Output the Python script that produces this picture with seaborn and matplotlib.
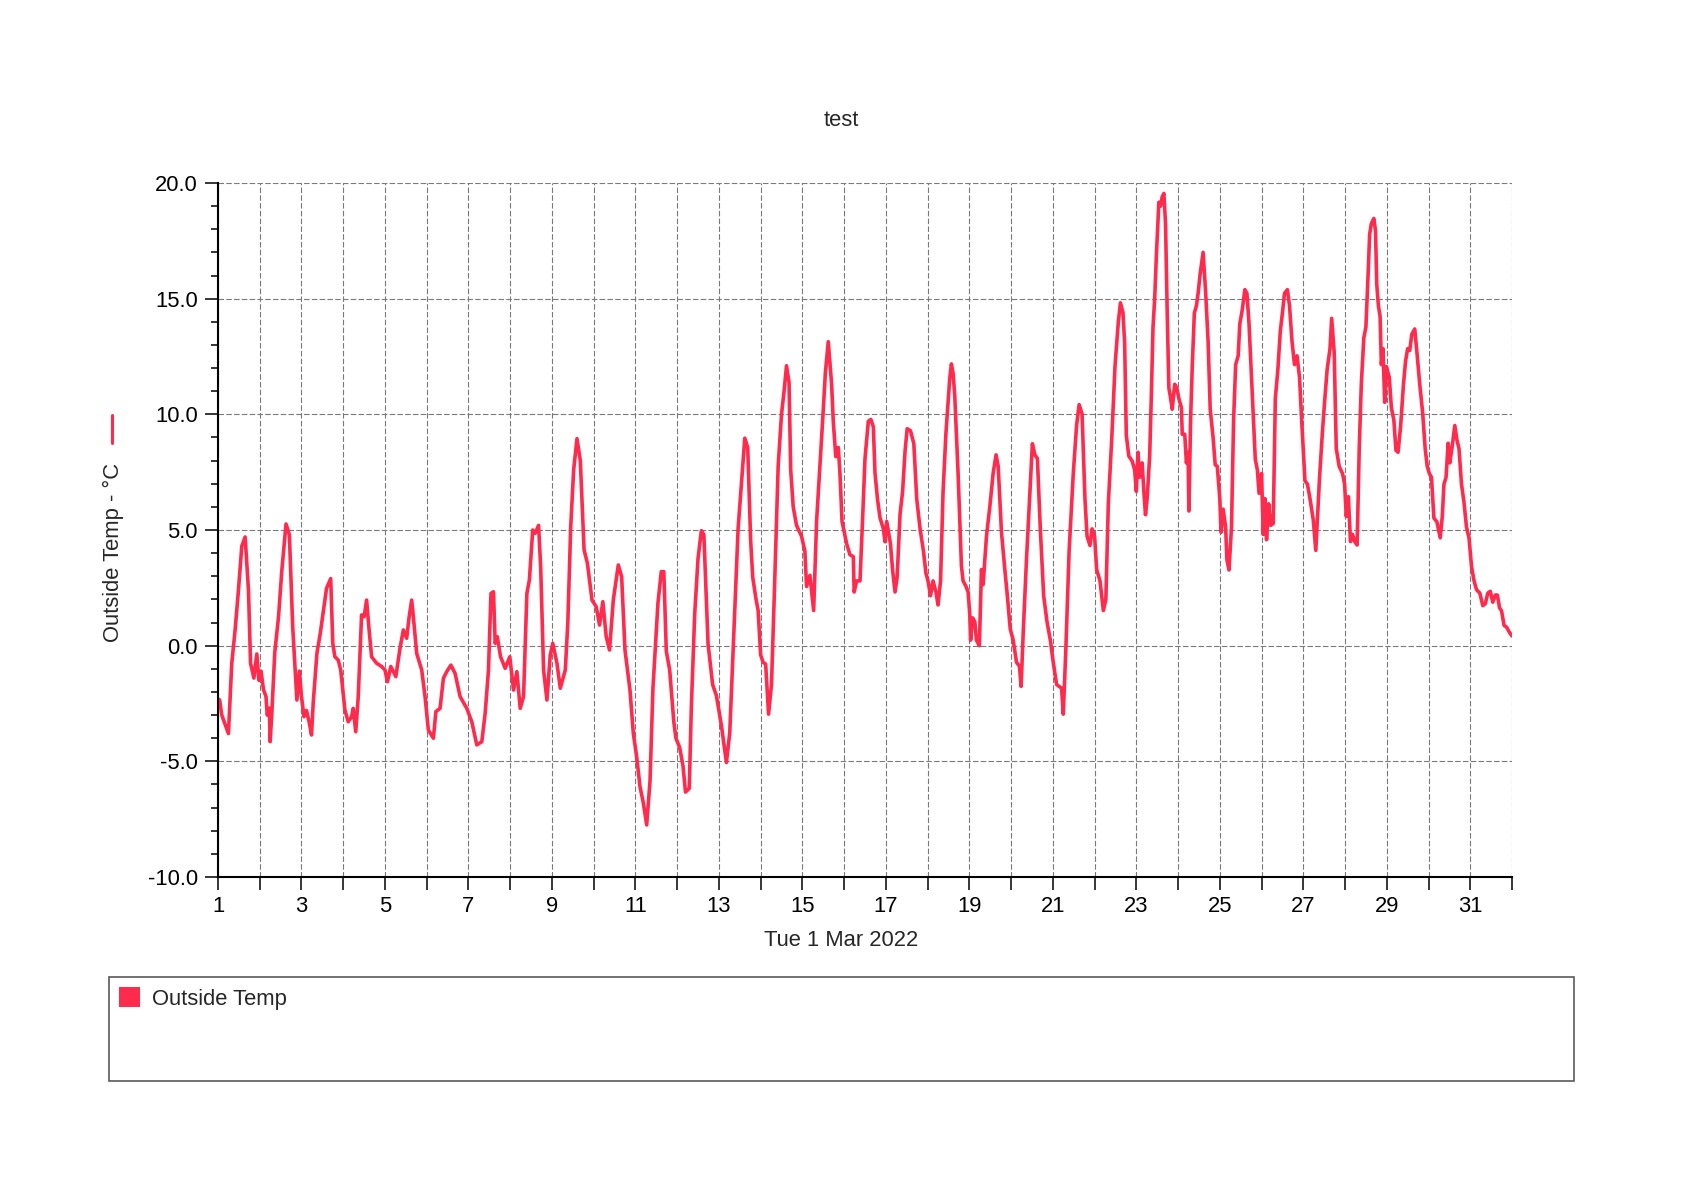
import matplotlib
matplotlib.use('Agg')
import matplotlib.pyplot as plt
import matplotlib.dates as mdates
from matplotlib.ticker import MultipleLocator, FormatStrFormatter, FuncFormatter
from matplotlib.patches import Rectangle
from matplotlib.lines import Line2D
import seaborn as sns
import pandas as pd

# Outside temperature, March 2022 (day-of-month as fractional position, deg C)
days_a = [1.0, 1.04, 1.09, 1.25, 1.33, 1.41, 1.49, 1.57, 1.65, 1.73, 1.78, 1.86, 1.93, 1.98,
          2.03, 2.09, 2.15, 2.18, 2.23, 2.25, 2.29, 2.36, 2.45, 2.53, 2.63, 2.71, 2.79, 2.85,
          2.89, 2.95, 3.0, 3.06, 3.12, 3.19, 3.24, 3.28, 3.37, 3.45, 3.54, 3.6, 3.7, 3.75,
          3.8, 3.88, 3.94, 4.04, 4.12, 4.2, 4.24, 4.3, 4.36, 4.44, 4.5, 4.56, 4.62, 4.68,
          4.8, 4.92, 5.0, 5.06, 5.14, 5.26, 5.36, 5.44, 5.52, 5.58, 5.64, 5.68, 5.76, 5.88,
          5.96, 6.04, 6.16, 6.22, 6.32, 6.4, 6.48, 6.58, 6.68, 6.8, 6.96, 7.08, 7.2, 7.32,
          7.4, 7.48, 7.54, 7.6, 7.64, 7.69, 7.77, 7.88, 7.99, 8.08, 8.16, 8.24, 8.32, 8.4,
          8.46, 8.54, 8.6, 8.68, 8.73, 8.8, 8.88, 8.96, 9.02, 9.12, 9.2, 9.32, 9.38, 9.45,
          9.52, 9.6, 9.68, 9.77, 9.85, 9.96, 10.06, 10.14, 10.22, 10.3, 10.38, 10.47, 10.59,
          10.67, 10.75, 10.87, 10.95, 11.03, 11.11, 11.19, 11.27]
temps_a = [-2.3, -2.35, -3.0, -3.8, -0.76, 0.68, 2.4, 4.3, 4.7, 2.4, -0.76, -1.4, -0.36, -1.5,
           -1.1, -1.9, -2.2, -3.0, -2.7, -4.15, -2.9, -0.3, 1.25, 3.27, 5.26, 4.8, 0.8, -1.05,
           -2.35, -1.1, -2.2, -3.07, -2.8, -3.36, -3.86, -2.5, -0.33, 0.53, 1.69, 2.48, 2.9, 0.1,
           -0.48, -0.62, -1.05, -2.78, -3.29, -3.07, -2.71, -3.72, -2.2, 1.33, 1.25, 1.97, 0.68, -0.48,
           -0.76, -0.9, -1.05, -1.56, -0.9, -1.34, -0.12, 0.68, 0.32, 1.25, 1.97, 1.25, -0.33, -1.05,
           -2.2, -3.65, -4.0, -2.85, -2.71, -1.41, -1.12, -0.84, -1.2, -2.2, -2.71, -3.29, -4.29, -4.15,
           -2.93, -1.05, 2.26, 2.33, 0.1, 0.39, -0.48, -0.98, -0.48, -1.92, -1.12, -2.71, -2.2, 2.26,
           2.84, 5.0, 4.86, 5.2, 3.41, -1.05, -2.35, -0.4, 0.1, -0.76, -1.84, -1.05, 0.97, 5.14,
           7.59, 8.95, 8.0, 4.14, 3.56, 1.97, 1.69, 0.89, 1.9, 0.39, -0.19, 1.97, 3.49,
           2.98, -0.19, -1.92, -3.79, -4.8, -6.1, -6.8, -7.75]

days_b = [11.35, 11.42, 11.5, 11.54, 11.62, 11.68, 11.74, 11.82, 11.92, 11.97, 12.06, 12.14, 12.2,
          12.29, 12.34, 12.42, 12.5, 12.58, 12.64, 12.74, 12.85, 12.94, 13.06, 13.18, 13.26, 13.34,
          13.46, 13.57, 13.62, 13.69, 13.76, 13.81, 13.89, 13.94, 14.0, 14.06, 14.12, 14.19, 14.26,
          14.34, 14.42, 14.5, 14.56, 14.62, 14.68, 14.72, 14.78, 14.86, 14.98, 15.06, 15.1, 15.18,
          15.27, 15.34, 15.42, 15.5, 15.55, 15.62, 15.7, 15.74, 15.8, 15.86, 15.9, 15.95, 16.06,
          16.14, 16.22, 16.24, 16.3, 16.38, 16.44, 16.5, 16.58, 16.64, 16.7, 16.74, 16.8, 16.86,
          16.94, 16.98, 17.02, 17.11, 17.16, 17.22, 17.27, 17.34, 17.4, 17.46, 17.51, 17.59, 17.67,
          17.74, 17.82, 17.9, 17.96, 18.01, 18.07, 18.13, 18.2, 18.25, 18.31, 18.37, 18.44, 18.49,
          18.53, 18.57, 18.61, 18.65, 18.73, 18.81, 18.85, 18.92, 18.97, 19.01, 19.03, 19.08, 19.13,
          19.17, 19.24, 19.29, 19.33, 19.41, 19.49, 19.57, 19.64, 19.69, 19.77, 19.85, 19.91, 19.98,
          20.05, 20.13, 20.2, 20.24, 20.29, 20.37, 20.45, 20.51, 20.57, 20.63, 20.7, 20.78, 20.86,
          20.94, 21.01, 21.09, 21.21, 21.25, 21.31, 21.39, 21.49, 21.57, 21.63, 21.7, 21.77, 21.82,
          21.89, 21.94, 22.0, 22.05, 22.13, 22.21, 22.27, 22.33, 22.41, 22.49, 22.57, 22.62]
temps_b = [-5.85, -1.84, 0.56, 1.84, 3.2, 3.2, -0.24, -1.04, -3.29, -4.0, -4.4, -5.2, -6.33,
           -6.17, -2.64, 1.36, 3.77, 4.97, 4.8, 0.08, -1.68, -2.16, -3.45, -5.05, -3.77, -0.24,
           5.05, 7.77, 8.97, 8.57, 4.57, 2.96, 2.0, 1.52, -0.4, -0.72, -0.8, -2.96, -1.68,
           2.96, 7.77, 10.0, 10.98, 12.1, 11.38, 7.61, 6.0, 5.2, 4.73, 4.09, 2.56, 3.04,
           1.52, 5.37, 7.77, 10.18, 11.78, 13.14, 11.3, 9.7, 8.17, 8.57, 7.45, 5.37, 4.41,
           3.93, 3.85, 2.32, 2.8, 2.8, 5.37, 8.09, 9.7, 9.78, 9.46, 7.45, 6.33, 5.53,
           5.05, 4.49, 5.37, 4.41, 3.29, 2.32, 2.96, 5.69, 6.65, 8.41, 9.38, 9.29, 8.73,
           6.33, 5.05, 4.09, 3.13, 2.8, 2.16, 2.8, 2.32, 1.76, 2.8, 6.65, 9.21, 10.5,
           11.54, 12.18, 11.78, 10.82, 7.45, 3.45, 2.8, 2.56, 2.32, 1.36, 0.24, 1.2, 1.04,
           0.24, 0.0, 3.29, 2.64, 4.73, 6.0, 7.45, 8.25, 7.77, 4.89, 3.29, 2.16, 0.72,
           0.24, -0.72, -0.88, -1.76, 0.56, 3.77, 6.65, 8.73, 8.25, 8.09, 5.05, 2.16, 1.04,
           0.24, -0.72, -1.68, -1.84, -2.96, -0.24, 4.09, 7.45, 9.54, 10.42, 10.02, 6.33, 4.73,
           4.33, 5.05, 4.73, 3.29, 2.8, 1.52, 2.0, 6.17, 8.89, 12.1, 14.02, 14.82]

days_c = [22.68, 22.72, 22.76, 22.82, 22.9, 22.96, 23.0, 23.04, 23.08, 23.14, 23.18, 23.22, 23.26,
          23.32, 23.36, 23.4, 23.44, 23.48, 23.54, 23.58, 23.62, 23.66, 23.7, 23.74, 23.78, 23.81,
          23.86, 23.92, 23.97, 24.02, 24.08, 24.1, 24.16, 24.2, 24.24, 24.26, 24.3, 24.34, 24.39,
          24.44, 24.48, 24.53, 24.6, 24.66, 24.72, 24.77, 24.84, 24.89, 24.94, 25.0, 25.03, 25.08,
          25.14, 25.17, 25.22, 25.28, 25.33, 25.38, 25.44, 25.48, 25.54, 25.6, 25.65, 25.7, 25.76,
          25.81, 25.85, 25.9, 25.94, 26.0, 26.04, 26.08, 26.12, 26.17, 26.22, 26.28, 26.33, 26.39,
          26.45, 26.5, 26.55, 26.62, 26.67, 26.73, 26.79, 26.85, 26.91, 26.97, 27.04, 27.1, 27.16,
          27.24, 27.3, 27.35, 27.39, 27.46, 27.51, 27.57, 27.64, 27.68, 27.74, 27.79, 27.86, 27.94,
          27.99, 28.03, 28.08, 28.13, 28.18, 28.23, 28.29, 28.34, 28.39, 28.45, 28.5, 28.55, 28.59,
          28.63, 28.69, 28.73, 28.76, 28.8, 28.84, 28.87, 28.91, 28.95, 28.99, 29.06, 29.11, 29.17,
          29.22, 29.27, 29.33, 29.4, 29.45, 29.5, 29.55, 29.6, 29.67, 29.73, 29.79, 29.86, 29.92,
          29.97, 30.02, 30.07, 30.13, 30.2, 30.28, 30.33, 30.37, 30.42, 30.47, 30.51, 30.56, 30.63,
          30.68, 30.73, 30.79, 30.85, 30.91, 30.97, 31.03, 31.09, 31.15, 31.23, 31.3, 31.36, 31.42,
          31.48, 31.54, 31.6, 31.65, 31.7, 31.75, 31.81, 31.87, 31.94, 32.0]
temps_c = [14.4, 13.1, 9.1, 8.2, 7.98, 7.6, 6.67, 8.36, 7.28, 7.9, 6.67, 5.66, 6.36,
           8.2, 10.83, 13.77, 15.0, 16.85, 19.17, 19.0, 19.4, 19.55, 18.24, 14.38, 11.14, 10.83,
           10.22, 11.3, 11.14, 10.68, 10.29, 9.14, 9.14, 7.9, 8.36, 5.82, 9.75, 12.07, 14.38,
           14.69, 15.23, 16.08, 17.0, 15.3, 13.15, 10.22, 8.98, 7.82, 7.75, 6.36, 4.9, 5.9,
           5.12, 3.73, 3.27, 5.12, 9.75, 12.15, 12.53, 13.92, 14.54, 15.39, 15.23, 13.92, 11.6,
           9.75, 8.06, 7.6, 6.59, 7.44, 4.81, 6.36, 4.58, 6.13, 5.2, 5.28, 10.68, 11.91,
           13.61, 14.38, 15.23, 15.39, 14.69, 13.15, 12.15, 12.53, 11.6, 9.44, 7.13, 6.98, 6.36,
           5.43, 4.12, 5.9, 7.28, 9.29, 10.52, 11.91, 12.84, 14.15, 12.69, 8.52, 7.75, 7.44,
           6.98, 5.59, 6.44, 4.5, 4.81, 4.5, 4.35, 8.52, 11.3, 13.3, 13.77, 15.93, 17.78,
           18.24, 18.47, 17.93, 15.62, 14.69, 14.23, 12.15, 12.84, 10.52, 12.07, 11.6, 10.29, 9.75,
           8.44, 8.36, 9.44, 11.3, 12.3, 12.84, 12.76, 13.46, 13.69, 12.53, 11.3, 10.06, 8.52,
           7.75, 7.44, 7.28, 5.51, 5.36, 4.66, 5.59, 6.98, 7.28, 8.75, 7.9, 8.52, 9.52,
           8.9, 8.52, 6.98, 6.2, 5.12, 4.66, 3.43, 2.81, 2.42, 2.27, 1.73, 1.81, 2.27,
           2.35, 1.88, 2.19, 2.19, 1.65, 1.5, 0.88, 0.8, 0.57, 0.42]

series_name = "Outside Temp"
RED = "#ff2a4c"

W, H = 1683, 1190

sns.set_theme(style="white")
plt.rcParams['font.family'] = ['Liberation Sans', 'DejaVu Sans']
plt.rcParams['axes.unicode_minus'] = False

start = pd.Timestamp("2022-03-01")
df = pd.DataFrame({
    "day": days_a + days_b + days_c,
    "temp": temps_a + temps_b + temps_c,
})
df["time"] = start + pd.to_timedelta(df["day"] - 1, unit="D")

fig = plt.figure(figsize=(W / 100, H / 100), dpi=100)
ax = fig.add_axes([218 / W, 1 - 877 / H, (1512 - 218) / W, (877 - 183) / H])

sns.lineplot(data=df, x="time", y="temp", ax=ax, color=RED, linewidth=2.6,
             estimator=None, sort=False, legend=False)

ax.set_xlim(start, pd.Timestamp("2022-04-01"))
ax.set_ylim(-10, 20)

ax.xaxis.set_major_locator(mdates.DayLocator())


def day_label(v, pos):
    d = mdates.num2date(v)
    if d.month == 3 and d.day % 2 == 1:
        return str(d.day)
    return ""


ax.xaxis.set_major_formatter(FuncFormatter(day_label))
ax.yaxis.set_major_locator(MultipleLocator(5))
ax.yaxis.set_minor_locator(MultipleLocator(1))
ax.yaxis.set_major_formatter(FormatStrFormatter('%.1f'))

ax.grid(True, which='major', color='#7a7a7a', linestyle=(0, (5, 2)), linewidth=0.8)
for s in ['top', 'right']:
    ax.spines[s].set_visible(False)
for s in ['left', 'bottom']:
    ax.spines[s].set_color('black')
    ax.spines[s].set_linewidth(1.5)

ax.tick_params(axis='both', which='major', direction='out', length=9.4, width=1.1,
               color='black', labelsize=15.8, labelcolor='black')
ax.tick_params(axis='x', which='major', pad=4.5, bottom=True)
ax.tick_params(axis='y', which='major', pad=5, left=True)
ax.tick_params(axis='y', which='minor', direction='out', length=5, width=1.1,
               color='black', left=True)
ax.set_xlabel("")
ax.set_ylabel("")

# titles and axis labels
fig.text(0.5, 1 - 120 / H, "test", ha='center', va='center', fontsize=15.8)
fig.text(0.5, 1 - 940 / H, "Tue 1 Mar 2022", ha='center', va='center', fontsize=15.8)
fig.text(113.5 / W, 1 - 552 / H, "Outside Temp - °C", rotation=90, ha='center', va='center',
         fontsize=15.8)
fig.add_artist(Line2D([112 / W, 112 / W], [1 - 415 / H, 1 - 443 / H],
                      transform=fig.transFigure, color=RED, linewidth=2.2))

# legend box under the chart
fig.add_artist(Rectangle((108.6 / W, 1 - 1080.5 / H), (1574 - 108.6) / W, (1080.5 - 977) / H,
                         transform=fig.transFigure, fill=False, edgecolor='#5a5a5a',
                         linewidth=1.2))
fig.add_artist(Rectangle((119.3 / W, 1 - 1006.5 / H), 20.5 / W, 20 / H,
                         transform=fig.transFigure, facecolor=RED, edgecolor='none'))
fig.text(151.7 / W, 1 - 1000 / H, series_name, ha='left', va='center', fontsize=15.8)

fig.savefig("out.png", dpi=100)
plt.close(fig)
